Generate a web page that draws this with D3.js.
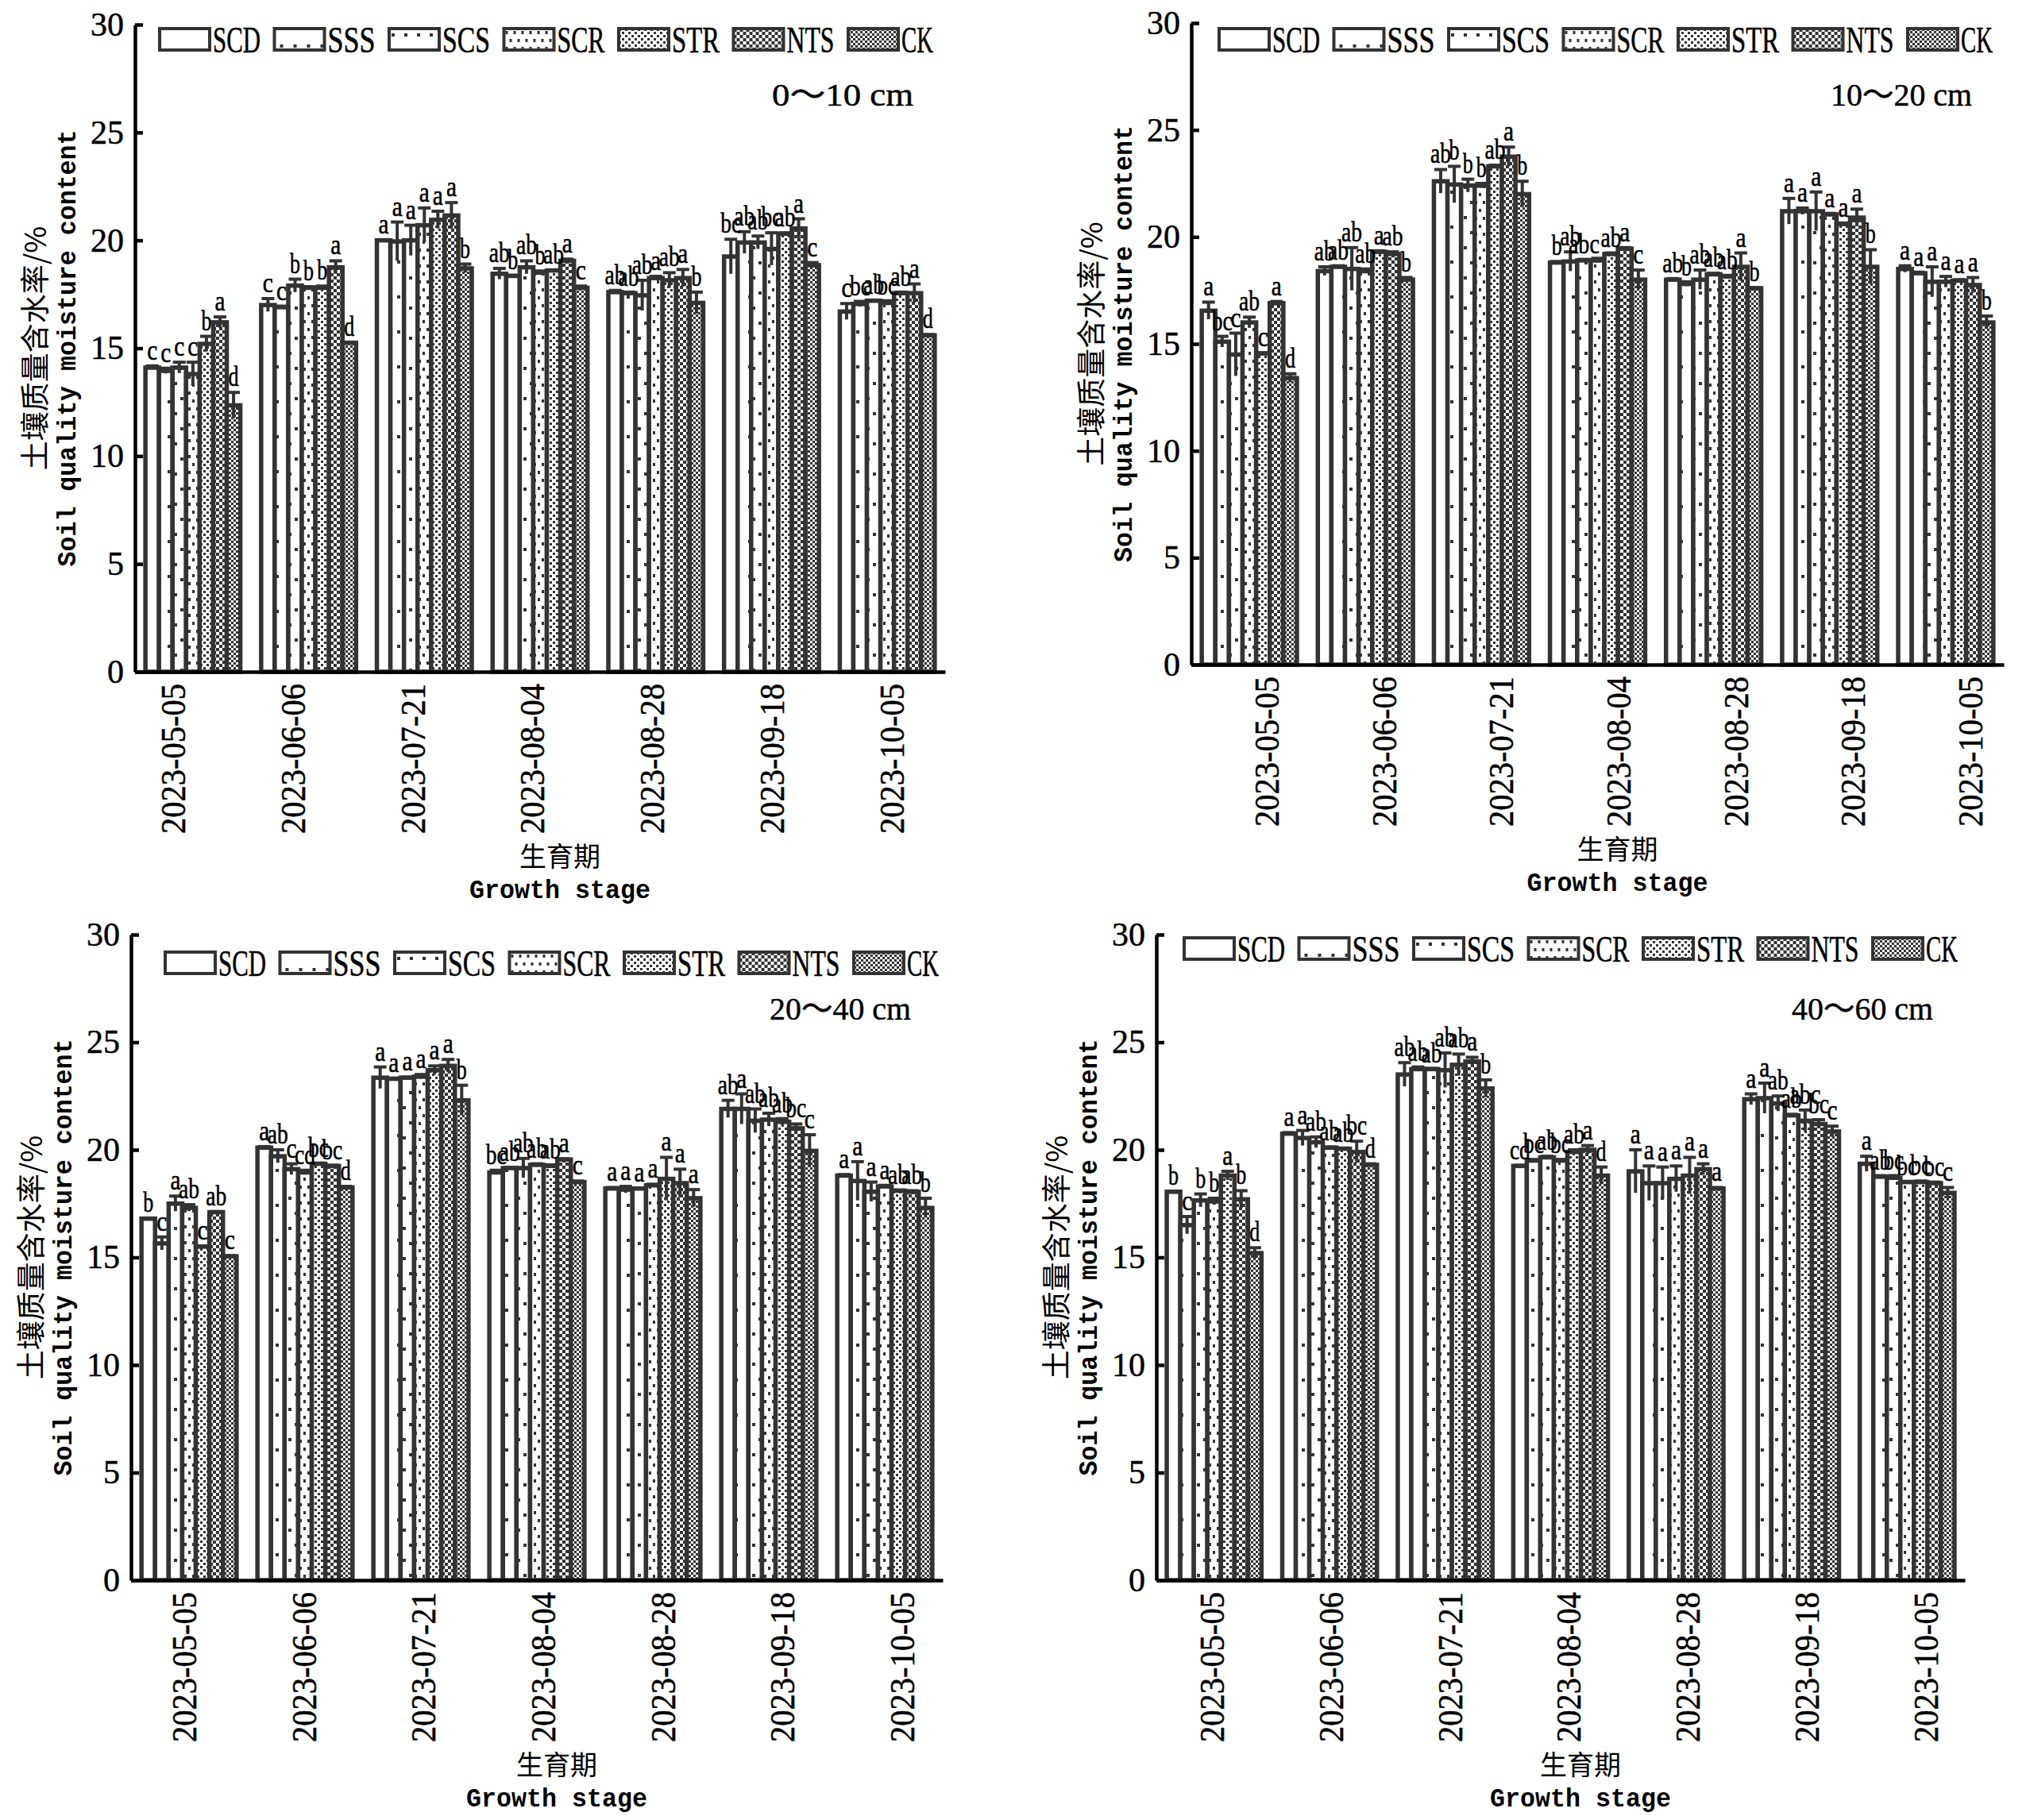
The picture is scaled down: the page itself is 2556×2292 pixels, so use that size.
<!DOCTYPE html>
<html>
<head>
<meta charset="utf-8">
<script src="https://cdn.jsdelivr.net/npm/d3@7"></script>
<style>
  body { margin: 0; background: #fff; }
  svg { display: block; }
</style>
</head>
<body>
<div id="chart"></div>
<script>
const width = 2556;
const height = 2292;

const series = ["SCD", "SSS", "SCS", "SCR", "STR", "NTS", "CK"];
const dates = ["2023-05-05", "2023-06-06", "2023-07-21", "2023-08-04", "2023-08-28", "2023-09-18", "2023-10-05"];
const yTicks = [0, 5, 10, 15, 20, 25, 30];
const depthLabels = ["0～10 cm", "10～20 cm", "20～40 cm", "40～60 cm"];

// valores por fecha (filas) y tratamiento (columnas)
const vals010 = [
  [14.1, 13.95, 14.1, 13.8, 15.2, 16.2, 12.35],
  [17.0, 16.9, 17.9, 17.8, 17.8, 18.75, 15.25],
  [20.0, 19.95, 20.0, 20.7, 20.95, 21.15, 18.7],
  [18.45, 18.35, 18.75, 18.5, 18.6, 19.05, 17.8],
  [17.6, 17.55, 17.45, 18.25, 18.15, 18.25, 17.1],
  [19.25, 19.9, 19.9, 19.6, 20.3, 20.55, 18.85],
  [16.7, 17.05, 17.2, 17.1, 17.55, 17.55, 15.6]
];
const err010 = [
  [0.08, 0.12, 0.25, 0.55, 0.35, 0.25, 0.6],
  [0.3, 0.05, 0.3, 0.05, 0.08, 0.3, 0.03],
  [0.03, 0.9, 0.7, 0.8, 0.4, 0.6, 0.2],
  [0.25, 0.03, 0.3, 0.08, 0.03, 0.08, 0.08],
  [0.08, 0.05, 0.7, 0.08, 0.35, 0.4, 0.5],
  [0.8, 0.5, 0.3, 0.75, 0.05, 0.45, 0.12],
  [0.37, 0.12, 0.03, 0.1, 0.05, 0.43, 0.03]
];
const sig010 = [
  ["c", "c", "c", "c", "b", "a", "d"],
  ["c", "c", "b", "b", "b", "a", "d"],
  ["a", "a", "a", "a", "a", "a", "b"],
  ["ab", "b", "ab", "b", "ab", "a", "c"],
  ["ab", "ab", "ab", "a", "ab", "a", "b"],
  ["bc", "ab", "ab", "bc", "ab", "a", "c"],
  ["c", "bc", "ab", "bc", "ab", "a", "d"]
];

const vals1020 = [
  [16.55, 15.1, 14.5, 16.0, 14.55, 16.9, 13.4],
  [18.4, 18.6, 18.5, 18.4, 19.3, 19.2, 18.0],
  [22.6, 22.45, 22.4, 22.4, 23.3, 23.75, 22.0],
  [18.8, 18.85, 18.9, 18.9, 19.2, 19.45, 18.0],
  [18.0, 17.8, 18.0, 18.25, 18.15, 18.6, 17.6],
  [21.2, 21.2, 21.2, 21.05, 20.6, 20.9, 18.6],
  [18.5, 18.3, 17.9, 17.9, 17.95, 17.75, 16.0]
];
const err1020 = [
  [0.4, 0.25, 1.0, 0.25, 0.03, 0.08, 0.2],
  [0.2, 0.05, 1.0, 0.1, 0.05, 0.1, 0.1],
  [0.55, 0.85, 0.3, 0.1, 0.05, 0.45, 0.6],
  [0.05, 0.45, 0.05, 0.1, 0.05, 0.05, 0.45],
  [0.05, 0.1, 0.45, 0.05, 0.05, 0.65, 0.03],
  [0.6, 0.15, 0.9, 0.05, 0.05, 0.4, 0.8],
  [0.15, 0.05, 0.7, 0.25, 0.05, 0.35, 0.3]
];
const sig1020 = [
  ["a", "bc", "c", "ab", "c", "a", "d"],
  ["ab", "ab", "ab", "ab", "a", "ab", "b"],
  ["ab", "b", "b", "b", "ab", "a", "b"],
  ["b", "ab", "abc", "", "ab", "a", "c"],
  ["ab", "b", "ab", "ab", "ab", "a", "b"],
  ["a", "a", "a", "a", "a", "a", "b"],
  ["a", "a", "a", "a", "a", "a", "b"]
];

const vals2040 = [
  [16.8, 15.65, 17.5, 17.3, 15.5, 17.1, 15.05],
  [20.1, 19.7, 19.1, 18.95, 19.35, 19.25, 18.25],
  [23.35, 23.3, 23.35, 23.4, 23.7, 23.9, 22.3],
  [18.95, 19.15, 19.15, 19.3, 19.25, 19.55, 18.5],
  [18.2, 18.15, 18.2, 18.35, 18.65, 18.45, 17.75],
  [21.9, 21.9, 21.35, 21.4, 21.3, 21.0, 19.95],
  [18.8, 18.55, 18.05, 18.3, 18.1, 18.05, 17.3]
];
const err2040 = [
  [0.03, 0.3, 0.35, 0.15, 0.03, 0.03, 0.03],
  [0.05, 0.3, 0.25, 0.1, 0.03, 0.03, 0.05],
  [0.5, 0.03, 0.03, 0.1, 0.2, 0.3, 0.7],
  [0.1, 0.03, 0.45, 0.05, 0.05, 0.03, 0.05],
  [0.05, 0.15, 0.03, 0.05, 1.0, 0.65, 0.4],
  [0.4, 0.7, 0.55, 0.3, 0.15, 0.2, 0.75],
  [0.05, 0.9, 0.45, 0.05, 0.03, 0.05, 0.45]
];
const sig2040 = [
  ["b", "c", "a", "ab", "c", "ab", "c"],
  ["a", "ab", "c", "cd", "bc", "bc", "d"],
  ["a", "a", "a", "a", "a", "a", "b"],
  ["bc", "ab", "ab", "ab", "ab", "a", "c"],
  ["a", "a", "a", "a", "a", "a", "a"],
  ["ab", "a", "ab", "ab", "ab", "bc", "c"],
  ["a", "a", "a", "a", "ab", "ab", "b"]
];

const vals4060 = [
  [18.05, 16.5, 17.65, 17.6, 18.8, 17.7, 15.2],
  [20.75, 20.55, 20.35, 20.1, 20.05, 19.9, 19.3],
  [23.5, 23.75, 23.75, 23.7, 23.95, 24.1, 22.85],
  [19.25, 19.5, 19.65, 19.5, 19.9, 20.0, 18.8],
  [19.0, 18.45, 18.45, 18.65, 18.8, 19.1, 18.2],
  [22.35, 22.4, 22.15, 21.6, 21.35, 21.2, 20.85],
  [19.35, 18.75, 18.7, 18.5, 18.5, 18.45, 18.0]
];
const err4060 = [
  [0.03, 0.4, 0.3, 0.15, 0.2, 0.4, 0.25],
  [0.05, 0.35, 0.25, 0.03, 0.03, 0.5, 0.05],
  [0.55, 0.1, 0.03, 0.8, 0.5, 0.2, 0.4],
  [0.03, 0.05, 0.05, 0.05, 0.1, 0.2, 0.4],
  [1.0, 0.8, 0.75, 0.6, 0.85, 0.25, 0.05],
  [0.25, 0.7, 0.35, 0.05, 0.5, 0.2, 0.25],
  [0.35, 0.05, 0.1, 0.03, 0.05, 0.05, 0.25]
];
const sig4060 = [
  ["b", "c", "b", "b", "a", "b", "d"],
  ["a", "a", "ab", "ab", "ab", "bc", "d"],
  ["ab", "ab", "ab", "ab", "ab", "a", "b"],
  ["cd", "bc", "ab", "bc", "ab", "a", "d"],
  ["a", "a", "a", "a", "a", "a", "a"],
  ["a", "a", "ab", "ab", "abc", "bc", "c"],
  ["a", "ab", "bc", "bc", "bc", "bc", "c"]
];

const allVals = [vals010, vals1020, vals2040, vals4060];
const allErr = [err010, err1020, err2040, err4060];
const allSig = [sig010, sig1020, sig2040, sig4060];

// posición de cada panel
const panels = [
  { x0: 170, x1: 1190, yTop: 31, y0: 846, lab: [217, 1122], legX: 201, legY: 36, depthY: 119 },
  { x0: 1500, x1: 2523, yTop: 29, y0: 837, lab: [1594, 2480], legX: 1535, legY: 36, depthY: 119 },
  { x0: 165, x1: 1187, yTop: 1177, y0: 1990, lab: [231, 1135], legX: 208, legY: 1199, depthY: 1270 },
  { x0: 1456, x1: 2474, yTop: 1177, y0: 1990, lab: [1525, 2424], legX: 1491, legY: 1181, depthY: 1270 }
];

const ink = "#333";
const serif = "'Liberation Serif', 'Times New Roman', serif";
const mono = "'Liberation Mono', monospace";
const cjk = "'Noto Sans CJK SC', sans-serif";

const svg = d3.select("#chart").append("svg")
  .attr("width", width).attr("height", height)
  .style("background", "#fff");

// tramas de relleno
const defs = svg.append("defs");
function pattern(id, w, h, cells) {
  const p = defs.append("pattern").attr("id", id)
    .attr("patternUnits", "userSpaceOnUse").attr("width", w).attr("height", h);
  p.append("rect").attr("width", w).attr("height", h).attr("fill", "#fff");
  cells.forEach(c => p.append("rect").attr("x", c[0]).attr("y", c[1])
    .attr("width", c[2]).attr("height", c[3]).attr("fill", ink));
}
pattern("p1", 17, 44, [[7, 20, 4, 4]]);
pattern("p2", 16, 38, [[3, 6, 4, 4], [11, 25, 4, 4]]);
pattern("p3", 10, 20, [[2, 3, 3, 4], [7, 13, 3, 4]]);
pattern("p4", 8, 8, [[0, 0, 3, 3], [4, 4, 3, 3]]);
pattern("p5", 8, 8, [[0, 0, 4, 4], [4, 4, 4, 4]]);
pattern("p6", 6, 6, [[0, 0, 3, 3], [3, 3, 3, 3]]);
const fills = ["#fff", "url(#p1)", "url(#p2)", "url(#p3)", "url(#p4)", "url(#p5)", "url(#p6)"];

panels.forEach((P, k) => {
  const vals = allVals[k], errs = allErr[k], sigs = allSig[k];
  const g = svg.append("g");

  const yScale = d3.scaleLinear().domain([0, 30]).range([P.y0, P.yTop]);
  const xGroup = d3.scaleBand().domain(dates).range([P.x0, P.x1])
    .paddingInner(0.18).paddingOuter(0.09);
  const xSeries = d3.scaleBand().domain(series).range([0, xGroup.bandwidth()]);
  const xLabel = d3.scalePoint().domain(dates).range(P.lab);

  const rows = [];
  dates.forEach((d, i) => series.forEach((s, j) => {
    rows.push({ date: d, s: s, j: j, v: vals[i][j], e: errs[i][j], sig: sigs[i][j] });
  }));

  // barras
  g.selectAll(".bar").data(rows).enter().append("rect")
    .attr("class", "bar")
    .attr("x", d => xGroup(d.date) + xSeries(d.s))
    .attr("y", d => yScale(d.v))
    .attr("width", xSeries.bandwidth())
    .attr("height", d => P.y0 - yScale(d.v))
    .attr("fill", d => fills[d.j])
    .attr("stroke", ink).attr("stroke-width", 5.5);

  // barras de error
  const cx = d => xGroup(d.date) + xSeries(d.s) + xSeries.bandwidth() / 2;
  g.selectAll(".err").data(rows).enter().append("line")
    .attr("x1", cx).attr("x2", cx)
    .attr("y1", d => yScale(d.v - d.e)).attr("y2", d => yScale(d.v + d.e))
    .attr("stroke", ink).attr("stroke-width", 4);
  g.selectAll(".cap").data(rows).enter().append("line")
    .attr("x1", d => cx(d) - 8).attr("x2", d => cx(d) + 8)
    .attr("y1", d => yScale(d.v + d.e)).attr("y2", d => yScale(d.v + d.e))
    .attr("stroke", ink).attr("stroke-width", 4);

  // letras de significancia
  g.selectAll(".sig").data(rows.filter(d => d.sig)).enter().append("text")
    .attr("x", cx)
    .attr("y", d => yScale(d.v + d.e) - 8)
    .attr("text-anchor", "middle")
    .attr("font-family", serif).attr("font-size", 36)
    .attr("stroke", "#000").attr("stroke-width", 0.6)
    .attr("textLength", d => d.sig.length * 13)
    .attr("lengthAdjust", "spacingAndGlyphs")
    .text(d => d.sig);

  // eje Y
  const yAxis = d3.axisLeft(yScale).tickValues(yTicks).tickSize(-10).tickSizeOuter(0).tickPadding(14);
  const yAxisG = g.append("g").attr("transform", "translate(" + P.x0 + ",0)").call(yAxis);
  yAxisG.select(".domain").attr("stroke", "#000").attr("stroke-width", 4.5);
  yAxisG.selectAll(".tick line").attr("stroke", "#000").attr("stroke-width", 4.5);
  yAxisG.selectAll(".tick text").attr("font-family", serif).attr("font-size", 42)
    .attr("fill", "#000").attr("stroke", "#000").attr("stroke-width", 0.5);

  // eje X
  const xAxisG = g.append("g").attr("transform", "translate(0," + P.y0 + ")")
    .call(d3.axisBottom(xGroup).tickSize(0).tickSizeOuter(0).tickFormat(""));
  xAxisG.select(".domain").attr("stroke", "#000").attr("stroke-width", 4.5);
  const labG = g.append("g").attr("transform", "translate(0," + P.y0 + ")")
    .call(d3.axisBottom(xLabel).tickSize(0));
  labG.select(".domain").remove();
  labG.selectAll(".tick text")
    .attr("transform", "rotate(-90)")
    .attr("x", -15).attr("y", 0).attr("dy", "0.35em")
    .attr("text-anchor", "end")
    .attr("font-family", serif).attr("font-size", 44)
    .attr("textLength", 189).attr("lengthAdjust", "spacingAndGlyphs")
    .attr("fill", "#000").attr("stroke", "#000").attr("stroke-width", 0.5);

  // títulos de ejes
  const midY = (P.yTop + P.y0) / 2;
  const midX = (P.x0 + P.x1) / 2 + 25;
  g.append("text")
    .attr("transform", "translate(" + (P.x0 - 128) + "," + midY + ") rotate(-90)")
    .attr("text-anchor", "middle").attr("dominant-baseline", "central")
    .attr("font-family", cjk).attr("font-size", 37)
    .text("土壤质量含水率/%");
  g.append("text")
    .attr("transform", "translate(" + (P.x0 - 84) + "," + midY + ") rotate(-90)")
    .attr("text-anchor", "middle").attr("dominant-baseline", "central")
    .attr("font-family", mono).attr("font-size", 33).attr("font-weight", "bold")
    .attr("textLength", 550).attr("lengthAdjust", "spacingAndGlyphs")
    .text("Soil quality moisture content");
  g.append("text")
    .attr("x", midX).attr("y", P.y0 + 230)
    .attr("text-anchor", "middle").attr("dominant-baseline", "central")
    .attr("font-family", cjk).attr("font-size", 34)
    .text("生育期");
  g.append("text")
    .attr("x", midX).attr("y", P.y0 + 276)
    .attr("text-anchor", "middle").attr("dominant-baseline", "central")
    .attr("font-family", mono).attr("font-size", 33).attr("font-weight", "bold")
    .attr("textLength", 228).attr("lengthAdjust", "spacingAndGlyphs")
    .text("Growth stage");

  // profundidad
  g.append("text")
    .attr("x", P.x1 - 40).attr("y", P.depthY)
    .attr("text-anchor", "end").attr("dominant-baseline", "central")
    .attr("font-family", serif + ", " + cjk).attr("font-size", 40)
    .attr("stroke", "#000").attr("stroke-width", 0.5)
    .attr("textLength", 178).attr("lengthAdjust", "spacingAndGlyphs")
    .text(depthLabels[k]);

  // leyenda
  const legScale = d3.scalePoint().domain(series).range([P.legX, P.legX + 867]);
  const leg = g.selectAll(".leg").data(series).enter().append("g")
    .attr("transform", s => "translate(" + legScale(s) + "," + P.legY + ")");
  leg.append("rect")
    .attr("width", 63).attr("height", 27)
    .attr("fill", (s, j) => fills[j])
    .attr("stroke", ink).attr("stroke-width", 4);
  leg.append("text")
    .attr("x", 67).attr("y", 14).attr("dominant-baseline", "central")
    .attr("font-family", serif).attr("font-size", 46)
    .attr("stroke", "#000").attr("stroke-width", 0.6)
    .attr("textLength", s => s.length * 20)
    .attr("lengthAdjust", "spacingAndGlyphs")
    .text(s => s);
});
</script>
</body>
</html>
